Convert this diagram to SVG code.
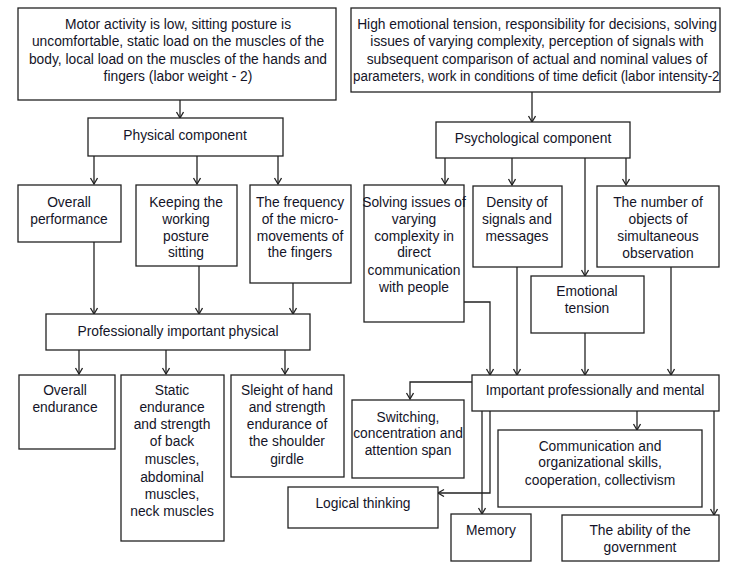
<svg xmlns="http://www.w3.org/2000/svg" width="743" height="571" viewBox="0 0 743 571">
<style>
.box{fill:#fff;stroke:#222;stroke-width:1.3}
.t{font-family:"Liberation Sans",Arial,sans-serif;font-size:13.8px;fill:#141428;text-anchor:middle}
.c{fill:none;stroke:#222;stroke-width:1.3;marker-end:url(#ah)}
</style>
<defs>
<marker id="ah" markerUnits="userSpaceOnUse" markerWidth="10" markerHeight="10" refX="7" refY="4" orient="auto">
<path d="M1,0.5 L7,4 L1,7.5" fill="none" stroke="#222" stroke-width="1.3"/>
</marker>
<clipPath id="cp2"><rect x="351" y="8" width="369" height="84"/></clipPath>
</defs>
<rect width="743" height="571" fill="#fff"/>
<g id="connectors">
<path class="c" d="M180,100 V118"/>
<path class="c" d="M94,156 V184"/>
<path class="c" d="M197,156 V184"/>
<path class="c" d="M278,156 V184"/>
<path class="c" d="M94,242 V314"/>
<path class="c" d="M199,266 V314"/>
<path class="c" d="M293,283 V314"/>
<path class="c" d="M79,350 V374"/>
<path class="c" d="M166,350 V374"/>
<path class="c" d="M285,350 V374"/>
<path class="c" d="M532,92 V122"/>
<path class="c" d="M445,158 V184"/>
<path class="c" d="M512,158 V185"/>
<path class="c" d="M585,158 V276"/>
<path class="c" d="M626,158 V185"/>
<path class="c" d="M464,302 H490 V375"/>
<path class="c" d="M517,267 V375"/>
<path class="c" d="M585,333 V375"/>
<path class="c" d="M671,267 V375"/>
<path class="c" d="M472,382 H410 V399"/>
<path class="c" d="M637,411 V430"/>
<path class="c" d="M490,411 V493 H438"/>
<path class="c" d="M482,411 V514"/>
<path class="c" d="M714,411 V515"/>
</g>
<g id="n1"><rect class="box" x="18" y="8" width="318" height="92"/>
<text class="t"><tspan x="178" y="29">Motor activity is low, sitting posture is</tspan><tspan x="178" y="46">uncomfortable, static load on the muscles of the</tspan><tspan x="178" y="64">body, local load on the muscles of the hands and</tspan><tspan x="178" y="81">fingers (labor weight - 2)</tspan></text></g>
<g id="n2"><rect class="box" x="351" y="8" width="369" height="84"/>
<g clip-path="url(#cp2)">
<text class="t"><tspan x="537" y="29">High emotional tension, responsibility for decisions, solving</tspan><tspan x="537" y="46">issues of varying complexity, perception of signals with</tspan><tspan x="537" y="64">subsequent comparison of actual and nominal values of</tspan></text>
<text class="t" x="353" y="81" style="text-anchor:start" textLength="371" lengthAdjust="spacingAndGlyphs">parameters, work in conditions of time deficit (labor intensity-2)</text>
</g></g>
<g id="n3"><rect class="box" x="88" y="118" width="195" height="38"/>
<text class="t" x="185" y="140">Physical component</text></g>
<g id="n4"><rect class="box" x="436" y="122" width="194" height="36"/>
<text class="t" x="533" y="143">Psychological component</text></g>
<g id="n5"><rect class="box" x="18" y="185" width="103" height="57"/>
<text class="t"><tspan x="69" y="207">Overall</tspan><tspan x="69" y="224">performance</tspan></text></g>
<g id="n6"><rect class="box" x="136" y="185" width="101" height="81"/>
<text class="t"><tspan x="186" y="207">Keeping the</tspan><tspan x="186" y="224">working</tspan><tspan x="186" y="241">posture</tspan><tspan x="186" y="257">sitting</tspan></text></g>
<g id="n7"><rect class="box" x="250" y="185" width="101" height="98"/>
<text class="t"><tspan x="300" y="207">The frequency</tspan><tspan x="300" y="224">of the micro-</tspan><tspan x="300" y="241">movements of</tspan><tspan x="300" y="257">the fingers</tspan></text></g>
<g id="n8"><rect class="box" x="364" y="185" width="100" height="137"/>
<text class="t"><tspan x="414" y="207">Solving issues of</tspan><tspan x="414" y="224">varying</tspan><tspan x="414" y="241">complexity in</tspan><tspan x="414" y="257">direct</tspan><tspan x="414" y="275">communication</tspan><tspan x="414" y="292">with people</tspan></text></g>
<g id="n9"><rect class="box" x="473" y="186" width="89" height="81"/>
<text class="t"><tspan x="517" y="207">Density of</tspan><tspan x="517" y="224">signals and</tspan><tspan x="517" y="241">messages</tspan></text></g>
<g id="n10"><rect class="box" x="597" y="186" width="122" height="81"/>
<text class="t"><tspan x="658" y="207">The number of</tspan><tspan x="658" y="224">objects of</tspan><tspan x="658" y="241">simultaneous</tspan><tspan x="658" y="258">observation</tspan></text></g>
<g id="n11"><rect class="box" x="531" y="276" width="113" height="57"/>
<text class="t"><tspan x="587" y="296">Emotional</tspan><tspan x="587" y="313">tension</tspan></text></g>
<g id="n12"><rect class="box" x="46" y="314" width="264" height="36"/>
<text class="t" x="178" y="336">Professionally important physical</text></g>
<g id="n13"><rect class="box" x="472" y="375" width="247" height="36"/>
<text class="t" x="595" y="395">Important professionally and mental</text></g>
<g id="n14"><rect class="box" x="19" y="375" width="96" height="74"/>
<text class="t"><tspan x="65" y="395">Overall</tspan><tspan x="65" y="412">endurance</tspan></text></g>
<g id="n15"><rect class="box" x="121" y="375" width="103" height="166"/>
<text class="t"><tspan x="172" y="395">Static</tspan><tspan x="172" y="412">endurance</tspan><tspan x="172" y="429">and strength</tspan><tspan x="172" y="446">of back</tspan><tspan x="172" y="464">muscles,</tspan><tspan x="172" y="482">abdominal</tspan><tspan x="172" y="499">muscles,</tspan><tspan x="172" y="516">neck muscles</tspan></text></g>
<g id="n16"><rect class="box" x="231" y="375" width="113" height="102"/>
<text class="t"><tspan x="287" y="395">Sleight of hand</tspan><tspan x="287" y="412">and strength</tspan><tspan x="287" y="429">endurance of</tspan><tspan x="287" y="446">the shoulder</tspan><tspan x="287" y="464">girdle</tspan></text></g>
<g id="n17"><rect class="box" x="352" y="400" width="112" height="78"/>
<text class="t"><tspan x="408" y="422">Switching,</tspan><tspan x="408" y="438">concentration and</tspan><tspan x="408" y="455">attention span</tspan></text></g>
<g id="n18"><rect class="box" x="498" y="430" width="204" height="77"/>
<text class="t"><tspan x="600" y="451">Communication and</tspan><tspan x="600" y="467">organizational skills,</tspan><tspan x="600" y="485">cooperation, collectivism</tspan></text></g>
<g id="n19"><rect class="box" x="288" y="487" width="150" height="41"/>
<text class="t" x="363" y="508">Logical thinking</text></g>
<g id="n20"><rect class="box" x="451" y="514" width="80" height="47"/>
<text class="t" x="491" y="535">Memory</text></g>
<g id="n21"><rect class="box" x="562" y="515" width="157" height="46"/>
<text class="t"><tspan x="640" y="535">The ability of the</tspan><tspan x="640" y="552">government</tspan></text></g>
</svg>
